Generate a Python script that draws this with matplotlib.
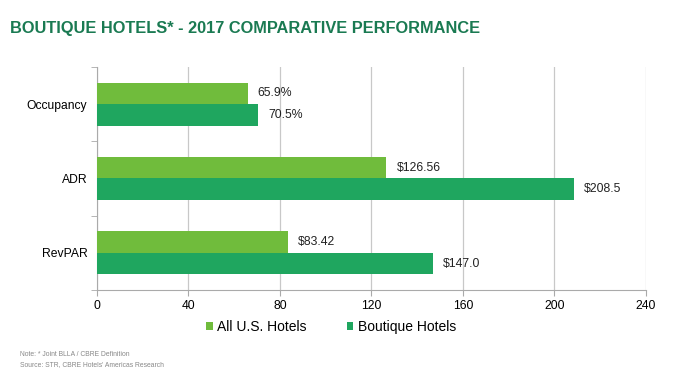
import matplotlib.pyplot as plt
import numpy as np

plt.rcParams['font.family'] = ['Liberation Sans', 'DejaVu Sans']

categories = ["Occupancy", "ADR", "RevPAR"]
all_us = [65.9, 126.56, 83.42]
boutique = [70.5, 208.5, 147.0]
all_us_labels = ["65.9%", "$126.56", "$83.42"]
boutique_labels = ["70.5%", "$208.5", "$147.0"]
xticks = [0, 40, 80, 120, 160, 200, 240]

light = "#70BC3C"
dark = "#1FA65F"

fig = plt.figure(figsize=(6.77, 3.85), dpi=100)
ax = fig.add_axes([0.1433, 0.2468, 0.8105, 0.5792])

y = np.arange(len(categories))
h = 0.29
ax.barh(y - h / 2, all_us, height=h, color=light, label="All U.S. Hotels", zorder=3)
ax.barh(y + h / 2, boutique, height=h, color=dark, label="Boutique Hotels", zorder=3)

# value labels next to the bar ends
for i in range(len(categories)):
    ax.text(all_us[i] + 4.4, y[i] - h / 2, all_us_labels[i], va="center", ha="left", fontsize=8.8, color="#222222")
    ax.text(boutique[i] + 4.4, y[i] + h / 2, boutique_labels[i], va="center", ha="left", fontsize=8.8, color="#222222")

ax.set_xlim(0, 240)
ax.set_ylim(2.5, -0.5)
ax.set_xticks(xticks)
ax.set_xticklabels([str(t) for t in xticks], fontsize=8.7)
ax.set_yticks(y)
ax.set_yticklabels(categories, fontsize=8.7)
ax.tick_params(axis="y", length=0, pad=7)
ax.set_yticks([-0.5, 0.5, 1.5, 2.5], minor=True)
ax.tick_params(axis="y", which="minor", length=4, color="#aaaaaa")
ax.tick_params(axis="x", length=4, color="#aaaaaa")
ax.grid(axis="x", color="#c8c8c8", linewidth=0.9, zorder=0)
for s in ["top", "right"]:
    ax.spines[s].set_visible(False)
for s in ["left", "bottom"]:
    ax.spines[s].set_color("#aaaaaa")

ax.legend(loc="upper center", bbox_to_anchor=(0.426, -0.08), ncol=2, frameon=False,
          fontsize=10, handlelength=0.5, handleheight=0.5, columnspacing=2.9, handletextpad=0.3)

fig.text(0.015, 0.915, "BOUTIQUE HOTELS* - 2017 COMPARATIVE PERFORMANCE", fontsize=11.8,
         fontweight="bold", color="#1A7A52", ha="left", va="baseline")
fig.text(0.03, 0.075, "Note: * Joint BLLA / CBRE Definition", fontsize=4.9, color="#888888")
fig.text(0.03, 0.048, "Source: STR, CBRE Hotels' Americas Research", fontsize=4.9, color="#888888")

fig.savefig("out.png", dpi=100)
